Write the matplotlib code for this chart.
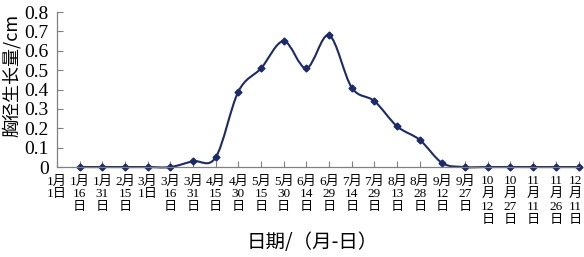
import numpy as np
import matplotlib.pyplot as plt
import matplotlib.transforms as mtransforms
from matplotlib.path import Path
from matplotlib.patches import PathPatch

plt.rcParams['font.family'] = ['Liberation Serif', 'Noto Sans CJK SC']

# dates (month, day) of every tick, first one sits on the y axis
months = [1, 1, 1, 2, 3, 3, 3, 4, 4, 5, 5, 6, 6, 7, 7, 8, 8, 9, 9, 10, 10, 11, 11, 12]
days = [1, 16, 31, 15, 1, 16, 31, 15, 30, 15, 30, 14, 29, 14, 29, 13, 28, 12, 27, 12, 27, 11, 26, 11]
# growth in cm, measured from 1/16 to 12/11
growth = [0, 0, 0, 0, 0, 0.03, 0.05, 0.39, 0.51, 0.65, 0.51, 0.68, 0.41,
          0.34, 0.21, 0.14, 0.02, 0, 0, 0, 0, 0, 0]
yticks = [0, 0.1, 0.2, 0.3, 0.4, 0.5, 0.6, 0.7, 0.8]


def tick_label(m, d):
    # narrow slots: month and day wrapped the way the original does it
    parts = [str(m), '月'] if m >= 10 else [str(m) + '月']
    if d < 10:
        parts.append(str(d) + '日')
    else:
        parts += [str(d), '日']
    return '\n'.join(parts)


labels = [tick_label(m, d) for m, d in zip(months, days)]
xpos = np.arange(len(labels))
px = xpos[1:]
py = np.array(growth)

fig = plt.figure(figsize=(5.84, 2.57), dpi=100)
ax = fig.add_axes([0.0976, 0.35, 0.893, 0.603])

# smooth line like the spreadsheet one: Catmull-Rom as cubic Bezier pieces
pts = np.column_stack([px, py])
ext = np.vstack([pts[0], pts, pts[-1]])
verts = [tuple(pts[0])]
codes = [Path.MOVETO]
for i in range(len(pts) - 1):
    p0, p1, p2, p3 = ext[i], ext[i + 1], ext[i + 2], ext[i + 3]
    c1 = p1 + (p2 - p0) / 6
    c2 = p2 - (p3 - p1) / 6
    verts += [tuple(c1), tuple(c2), tuple(p2)]
    codes += [Path.CURVE4] * 3
navy = '#1c2a66'
ax.add_patch(PathPatch(Path(verts, codes), fill=False, edgecolor=navy, lw=1.5, clip_on=False))
ax.plot(px, py, ls='none', marker='D', ms=3.5, color=navy, clip_on=False)

ax.set_xlim(0, len(labels) - 1)
ax.set_ylim(0, 0.8)
ax.set_yticks(yticks)
ax.set_yticklabels(['0' if v == 0 else f'{v:.1f}' for v in yticks], fontsize=14)
ax.set_xticks(xpos)
ax.set_xticklabels(labels, fontsize=9.5, linespacing=1.1, va='top')
ax.tick_params(axis='both', direction='in', length=4, color='#808080', width=0.8)
ax.tick_params(axis='x', pad=6)
ax.tick_params(axis='y', pad=6)
for s in ['top', 'right']:
    ax.spines[s].set_visible(False)
for s in ['left', 'bottom']:
    ax.spines[s].set_color('#808080')
    ax.spines[s].set_linewidth(0.9)

# last label would run off the right edge, nudge it a little
last = ax.get_xticklabels()[-1]
last.set_transform(last.get_transform() + mtransforms.ScaledTranslation(-0.03, 0, fig.dpi_scale_trans))

ax.set_ylabel('胸径生长量/cm', fontsize=13, family=['Noto Sans CJK SC', 'DejaVu Sans'])
ax.yaxis.set_label_coords(-0.07, 0.59)
fig.text(0.535, 0.055, '日期/（月-日）', fontsize=14, family=['Noto Sans CJK SC', 'DejaVu Sans'],
         ha='center', va='center')

fig.savefig('out.png', dpi=100)
